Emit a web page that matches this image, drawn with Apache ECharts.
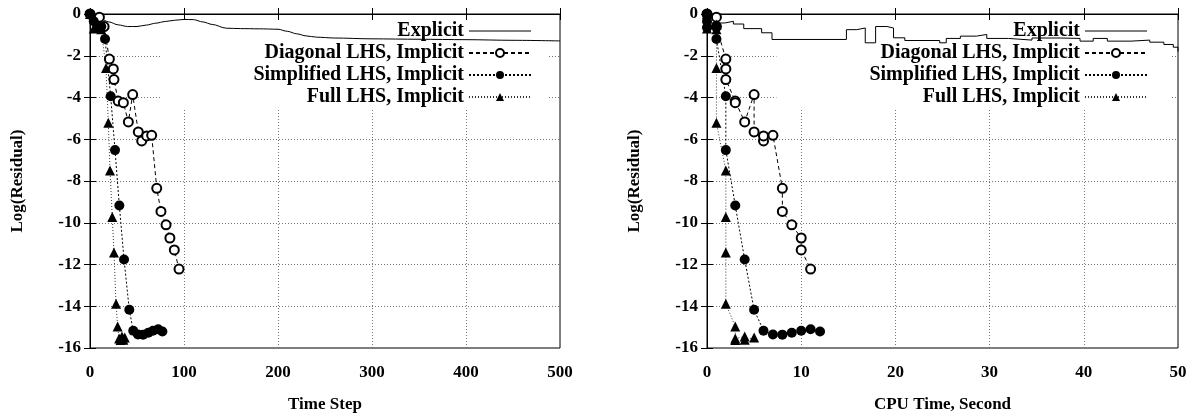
<!DOCTYPE html>
<html>
<head>
<meta charset="utf-8">
<script src="https://cdn.jsdelivr.net/npm/echarts@6/dist/echarts.min.js"></script>
<style>
  html, body { margin: 0; padding: 0; background: #fff; }
  #chart { width: 1195px; height: 418px; }
</style>
</head>
<body>
<div id="chart"></div>
<script>
// Explicit run, left plot (time step) and right plot (CPU time, staircase)
const explicitSteps = [0, 10, 20, 30, 40, 50, 60, 70, 80, 90, 100, 110, 120, 130, 145, 160, 180, 200, 210, 220, 230, 241, 260, 300, 350, 400, 450, 500];
const explicitLogByStep = [0, -0.2, -0.38, -0.52, -0.6, -0.6, -0.53, -0.44, -0.36, -0.3, -0.26, -0.27, -0.38, -0.5, -0.68, -0.7, -0.71, -0.73, -0.83, -0.95, -1.05, -1.11, -1.15, -1.19, -1.21, -1.23, -1.26, -1.29];
const explicitCpu = [0, 0, 1.9, 2.8, 3.9, 5.8, 6.9, 14.8, 15.9, 16.8, 17.9, 19.1, 19.8, 21.0, 24.7, 25.4, 26.9, 28.6, 29.7, 32, 34.5, 37.5, 39.6, 41, 42.5, 45, 47, 48.5, 49.5, 50];
const explicitLogByCpu = [0, -0.43, -0.35, -0.48, -0.7, -0.9, -1.22, -0.75, -0.67, -1.38, -0.6, -0.67, -1.14, -1.27, -1.38, -1.17, -1.06, -0.98, -1.17, -1.25, -1.15, -1.17, -1.3, -1.17, -1.3, -1.25, -1.35, -1.46, -1.59, -1.8];

// Diagonal LHS, implicit
const diagSteps = [0, 10, 15, 20.6, 24.8, 25.5, 30, 35.5, 40.8, 45.4, 51.4, 55, 60.3, 65.6, 71, 75.5, 80.9, 85, 89.7, 94.7];
const diagCpu = [0, 1, 1, 2, 2, 2, 3, 3, 4, 5, 5, 6, 6, 7, 8, 8, 9, 10, 10, 11];
const diagLog = [0, -0.15, -0.6, -2.16, -2.63, -3.14, -4.17, -4.25, -5.17, -3.86, -5.65, -6.08, -5.84, -5.81, -8.35, -9.46, -10.1, -10.73, -11.3, -12.22];

// Simplified LHS, implicit
const simpSteps = [0, 4, 8, 12, 16, 22, 26.6, 31.2, 36.2, 41.8, 46, 51, 56.5, 62, 67, 72.5, 77];
const simpCpu = [0, 0, 0, 1, 1, 2, 2, 3, 4, 5, 6, 7, 8, 9, 10, 11, 12];
const simpLog = [0, -0.35, -0.65, -0.6, -1.2, -3.94, -6.52, -9.17, -11.76, -14.17, -15.17, -15.35, -15.36, -15.27, -15.17, -15.1, -15.21];

// Full LHS, implicit
const fullSteps = [0, 4, 8, 12, 17, 19.5, 21.3, 23.7, 25.5, 27.7, 29.4, 31, 32.5, 34, 35.5, 37];
const fullCpu = [0, 0, 1, 1, 1, 1, 2, 2, 2, 2, 3, 3, 3, 4, 4, 5];
const fullLog = [0, -0.7, -0.5, -0.73, -2.59, -5.21, -7.5, -9.73, -11.43, -13.88, -14.97, -15.55, -15.62, -15.45, -15.6, -15.5];

const names = ['Explicit', 'Diagonal LHS, Implicit', 'Simplified LHS, Implicit', 'Full LHS, Implicit'];
const yTicks = { min: -16, max: 0, interval: 2 };

const pair = (xs, ys) => xs.map((x, i) => [x, ys[i]]);
const font = 'Liberation Serif';

const chart = echarts.init(document.getElementById('chart'));

function mainX(grid, max, interval, name) {
  return {
    type: 'value', gridIndex: grid, position: 'bottom', min: 0, max: max, interval: interval,
    name: name, nameLocation: 'middle', nameGap: 48,
    nameTextStyle: { fontFamily: font, fontWeight: 'bold', fontSize: 17, color: '#000' },
    axisLine: { show: true, lineStyle: { color: '#000', width: 1 } },
    axisTick: { show: true, inside: true, length: 6, lineStyle: { color: '#000' } },
    axisLabel: { margin: 16, fontFamily: font, fontWeight: 'bold', fontSize: 17, color: '#000' },
    splitLine: { show: true, lineStyle: { color: '#777', type: [1, 2], width: 1 } }
  };
}
function mirrorX(grid, max, interval) {
  return {
    type: 'value', gridIndex: grid, position: 'top', min: 0, max: max, interval: interval, z: 3,
    axisLine: { show: false }, axisLabel: { show: false }, splitLine: { show: false },
    axisTick: { show: true, inside: true, length: 6, lineStyle: { color: '#000' } }
  };
}
function mainY(grid) {
  return {
    type: 'value', gridIndex: grid, position: 'left', min: yTicks.min, max: yTicks.max, interval: yTicks.interval,
    name: 'Log(Residual)', nameLocation: 'middle', nameGap: 64, nameRotate: 90,
    nameTextStyle: { fontFamily: font, fontWeight: 'bold', fontSize: 17, color: '#000' },
    axisLine: { show: true, lineStyle: { color: '#000', width: 1 } },
    axisTick: { show: true, inside: true, length: 6, lineStyle: { color: '#000' } },
    axisLabel: { margin: 9, fontFamily: font, fontWeight: 'bold', fontSize: 17, color: '#000' },
    splitLine: { show: true, lineStyle: { color: '#777', type: [1, 2], width: 1 } }
  };
}
function mirrorY(grid) {
  return {
    type: 'value', gridIndex: grid, position: 'right', min: yTicks.min, max: yTicks.max, interval: yTicks.interval, z: 3,
    axisLine: { show: false }, axisLabel: { show: false }, splitLine: { show: false },
    axisTick: { show: true, inside: true, length: 6, lineStyle: { color: '#000' } }
  };
}

function seriesFor(xi, yi, exX, exY, dX, sX, fX, stepped) {
  return [
    {
      name: names[0], type: 'line', xAxisIndex: xi, yAxisIndex: yi,
      data: pair(exX, exY), symbol: 'none',
      smooth: stepped ? false : 0.3, smoothMonotone: 'x', step: stepped ? 'end' : false,
      lineStyle: { color: '#000', width: 1 }, itemStyle: { color: '#000' }
    },
    {
      name: names[1], type: 'line', xAxisIndex: xi, yAxisIndex: yi,
      data: pair(dX, diagLog), symbol: 'emptyCircle', symbolSize: 9,
      lineStyle: { color: '#000', width: 1, type: [4, 3] },
      itemStyle: { color: '#000', borderWidth: 1 }
    },
    {
      name: names[2], type: 'line', xAxisIndex: xi, yAxisIndex: yi,
      data: pair(sX, simpLog), symbol: 'circle', symbolSize: 10,
      lineStyle: { color: '#000', width: 1, type: [2, 2] }, itemStyle: { color: '#000' }
    },
    {
      name: names[3], type: 'line', xAxisIndex: xi, yAxisIndex: yi,
      data: pair(fX, fullLog), symbol: 'triangle', symbolSize: 10,
      lineStyle: { color: '#333', width: 1, type: [1, 2] }, itemStyle: { color: '#000' }
    }
  ];
}

function legendAt(right, padding) {
  return {
    data: [
      { name: names[0], icon: 'path://M0,0L62,0L62,1.2L0,1.2Z' },
      names[1], names[2], names[3]
    ],
    orient: 'vertical', align: 'right', right: right, top: 15, z: 1,
    padding: padding, backgroundColor: '#fff',
    itemWidth: 62, itemHeight: 10, itemGap: 2, selectedMode: false,
    textStyle: { fontFamily: font, fontWeight: 'bold', fontSize: 20, lineHeight: 20, color: '#000' }
  };
}

chart.setOption({
  animation: false,
  backgroundColor: '#fff',
  grid: [
    { left: 90, top: 14, width: 470, height: 336, show: true, borderColor: '#000', borderWidth: 1 },
    { left: 707, top: 14, width: 471, height: 336, show: true, borderColor: '#000', borderWidth: 1 }
  ],
  legend: [
    legendAt(1195 - 548, [6, 16, 1, 93]),
    legendAt(1195 - 1172, [6, 24, 1, 93])
  ],
  xAxis: [
    mainX(0, 500, 100, 'Time Step'), mirrorX(0, 500, 100),
    mainX(1, 50, 10, 'CPU Time, Second'), mirrorX(1, 50, 10)
  ],
  yAxis: [mainY(0), mirrorY(0), mainY(1), mirrorY(1)],
  series: [].concat(
    seriesFor(0, 0, explicitSteps, explicitLogByStep, diagSteps, simpSteps, fullSteps, false),
    seriesFor(2, 2, explicitCpu, explicitLogByCpu, diagCpu, simpCpu, fullCpu, true)
  )
});
</script>
</body>
</html>
